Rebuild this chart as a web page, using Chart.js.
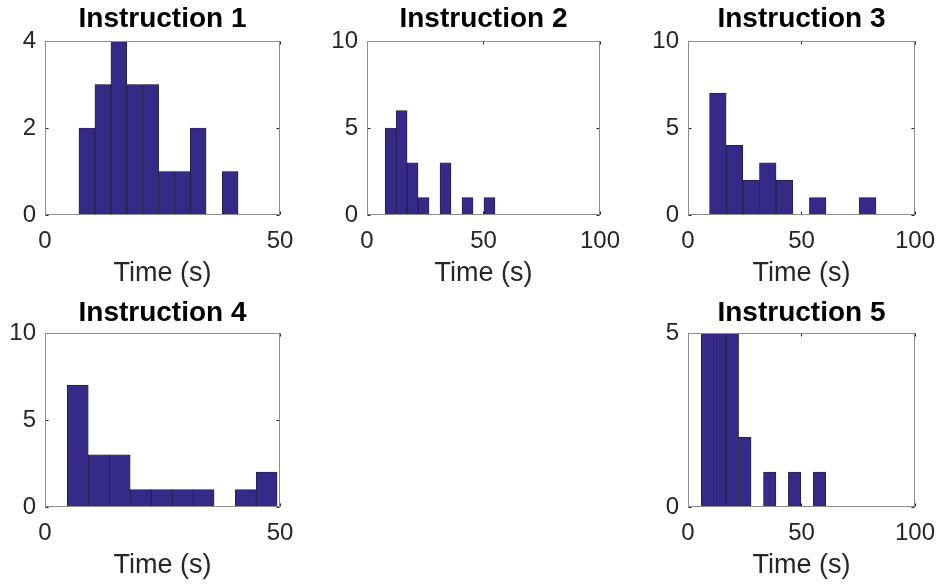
<!DOCTYPE html>
<html>
<head>
<meta charset="utf-8">
<script src="https://cdn.jsdelivr.net/npm/chart.js@4/dist/chart.umd.min.js"></script>
<style>
  body { margin: 0; background: #fff; width: 947px; height: 584px; position: relative; overflow: hidden; }
  canvas { position: absolute; }
</style>
</head>
<body>
<canvas id="c1" width="310" height="290" style="left:0;top:0"></canvas>
<canvas id="c2" width="310" height="290" style="left:322px;top:0"></canvas>
<canvas id="c3" width="304" height="290" style="left:643px;top:0"></canvas>
<canvas id="c4" width="310" height="290" style="left:0;top:292px"></canvas>
<canvas id="c5" width="304" height="290" style="left:643px;top:292px"></canvas>
<script>
// histogram data: bin edges (s) and counts
const titles = ['Instruction 1', 'Instruction 2', 'Instruction 3', 'Instruction 4', 'Instruction 5'];

const inst1Edges = [7.2, 10.6, 14.0, 17.4, 20.8, 24.2, 27.5, 30.9, 34.3, 37.7, 41.1];
const inst1Counts = [2, 3, 4, 3, 3, 1, 1, 2, 0, 1];

const inst2Edges = [7.8, 12.5, 17.2, 21.9, 26.6, 31.3, 36.1, 40.8, 45.5, 50.2, 54.9];
const inst2Counts = [5, 6, 3, 1, 0, 3, 0, 1, 0, 1];

const inst3Edges = [9.5, 16.8, 24.2, 31.5, 38.8, 46.2, 53.5, 60.8, 68.1, 75.5, 82.8];
const inst3Counts = [7, 4, 2, 3, 2, 0, 1, 0, 0, 1];

const inst4Edges = [4.75, 9.2, 13.7, 18.1, 22.6, 27.1, 31.5, 36.0, 40.5, 44.9, 49.4];
const inst4Counts = [7, 3, 3, 1, 1, 1, 1, 0, 1, 2];

const inst5Edges = [5.8, 11.3, 16.8, 22.3, 27.8, 33.3, 38.7, 44.2, 49.7, 55.2, 60.7];
const inst5Counts = [5, 5, 5, 2, 0, 1, 0, 1, 0, 1];

// axis limits / ticks
const xMax = [50, 100, 100, 50, 100];
const xStep = [50, 50, 50, 50, 50];
const yMax = [4, 10, 10, 10, 5];
const yStep = [2, 5, 5, 5, 5];

const allEdges = [inst1Edges, inst2Edges, inst3Edges, inst4Edges, inst5Edges];
const allCounts = [inst1Counts, inst2Counts, inst3Counts, inst4Counts, inst5Counts];

const FONT = "'Liberation Sans', Arial, Helvetica, sans-serif";
const BAR = '#352a87';

// box around the plot area plus short inward ticks, like matlab axes
const boxPlugin = {
    id: 'box',
    afterDatasetsDraw(chart) {
        const { ctx, chartArea: a, scales } = chart;
        const l = Math.round(a.left) + 0.5, r = Math.round(a.right) - 0.5;
        const t = Math.round(a.top) + 0.5, b = Math.round(a.bottom) - 0.5;
        ctx.save();
        ctx.strokeStyle = '#262626';
        ctx.lineWidth = 1;
        ctx.beginPath();
        scales.y.ticks.forEach(tk => {
            const y = Math.round(scales.y.getPixelForValue(tk.value)) + 0.5;
            ctx.moveTo(l, y); ctx.lineTo(l + 3, y);
            ctx.moveTo(r, y); ctx.lineTo(r - 3, y);
        });
        scales.x.ticks.forEach(tk => {
            const x = Math.round(scales.x.getPixelForValue(tk.value)) + 0.5;
            ctx.moveTo(x, b); ctx.lineTo(x, b - 3);
            ctx.moveTo(x, t); ctx.lineTo(x, t + 3);
        });
        ctx.stroke();
        ctx.strokeStyle = '#8c8c8c';
        ctx.strokeRect(l, t, r - l, b - t);
        ctx.restore();
    }
};

function makeHist(id, i, rightPad, titleTop) {
    const edges = allEdges[i];
    const points = allCounts[i].map((c, k) => ({ x: (edges[k] + edges[k + 1]) / 2, y: c }));
    new Chart(document.getElementById(id), {
        type: 'bar',
        data: {
            datasets: [{
                data: points,
                backgroundColor: BAR,
                borderColor: '#1c1c2a',
                borderWidth: 0.7,
                borderSkipped: 'start',
                barPercentage: 1,
                categoryPercentage: 1
            }]
        },
        options: {
            responsive: false,
            animation: false,
            layout: { padding: { left: 0, top: 0, right: rightPad, bottom: 0 } },
            plugins: {
                legend: { display: false },
                tooltip: { enabled: false },
                title: {
                    display: true,
                    fullSize: false,
                    text: titles[i],
                    color: '#000',
                    font: { family: FONT, size: 28, weight: 'bold' },
                    padding: { top: titleTop, bottom: 7.4 - titleTop }
                }
            },
            scales: {
                x: {
                    type: 'linear',
                    min: 0,
                    max: xMax[i],
                    offset: false,
                    grid: { display: false, drawTicks: false, offset: false },
                    border: { display: false },
                    ticks: { stepSize: xStep[i], color: '#262626', padding: 12, maxRotation: 0, font: { family: FONT, size: 24 } },
                    title: { display: true, text: 'Time (s)', color: '#262626', padding: { top: 0, bottom: 0 }, font: { family: FONT, size: 27 } },
                    afterFit(scale) { scale.height = 75; }
                },
                y: {
                    min: 0,
                    max: yMax[i],
                    grid: { display: false, drawTicks: false },
                    border: { display: false },
                    ticks: { stepSize: yStep[i], color: '#262626', padding: 9, font: { family: FONT, size: 24 } },
                    afterFit(scale) { scale.width = 45; }
                }
            }
        },
        plugins: [boxPlugin]
    });
}

makeHist('c1', 0, 30, 2);
makeHist('c2', 1, 30, 2);
makeHist('c3', 2, 24, 2);
makeHist('c4', 3, 30, 4);
makeHist('c5', 4, 24, 4);
</script>
</body>
</html>
